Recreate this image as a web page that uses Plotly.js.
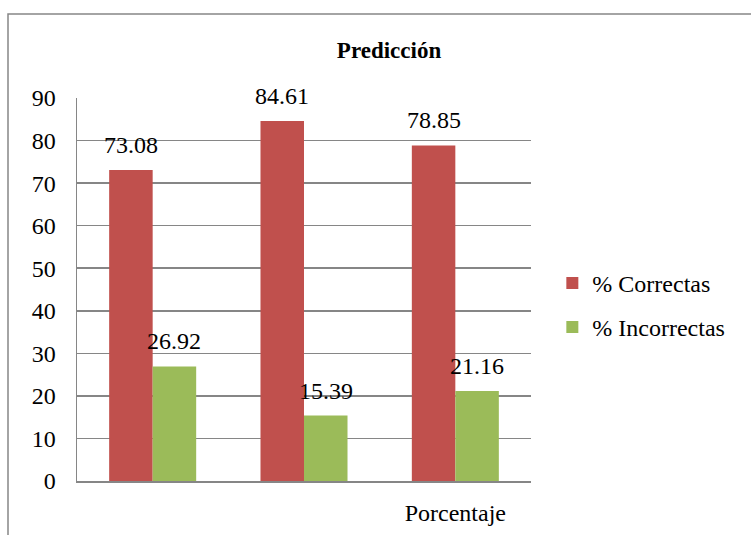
<!DOCTYPE html>
<html>
<head>
<meta charset="utf-8">
<script src="https://cdn.plot.ly/plotly-3.0.1.min.js"></script>
<style>html,body{margin:0;padding:0;background:#fff;}#chart{width:751px;height:535px;}</style>
</head>
<body>
<div id="chart"></div>
<script>
var categories = ['g1', 'g2', 'g3'];
var tickLabels = ['', '', 'Porcentaje'];
var seriesNames = ['% Correctas', '% Incorrectas'];
var correctas = [73.08, 84.61, 78.85];
var incorrectas = [26.92, 15.39, 21.16];
var chartTitle = 'Predicción';

var FONT = 'Liberation Serif, Times New Roman, serif';
var RED = '#C0504D', GREEN = '#9BBB59', GRID = '#868686';

var traces = [
  {type: 'bar', name: seriesNames[0], x: categories, y: correctas, marker: {color: RED}, legendgroup: 'a', hoverinfo: 'y'},
  {type: 'bar', name: seriesNames[1], x: categories, y: incorrectas, marker: {color: GREEN}, legendgroup: 'b', hoverinfo: 'y'}
];

var annotations = [];
[correctas, incorrectas].forEach(function (vals, s) {
  vals.forEach(function (v, i) {
    annotations.push({
      x: categories[i], y: v, xref: 'x', yref: 'y',
      text: v.toFixed(2), showarrow: false,
      xshift: s === 0 ? -21.75 : 21.75, yshift: 25,
      yanchor: 'middle', xanchor: 'center',
      font: {family: FONT, size: 24, color: '#000'}
    });
  });
});

var layout = {
  width: 751, height: 535,
  margin: {l: 77, r: 220, t: 98, b: 54},
  paper_bgcolor: '#fff', plot_bgcolor: '#fff',
  font: {family: FONT, size: 24, color: '#000'},
  title: {text: '<b>' + chartTitle + '</b>', xref: 'container', yref: 'container', x: 0.518, y: 1 - 50 / 535, xanchor: 'center', yanchor: 'middle', font: {family: FONT, size: 23, color: '#000'}},
  bargap: 0.425, bargroupgap: 0,
  barmode: 'group',
  xaxis: {type: 'category', tickvals: categories, ticktext: tickLabels, showgrid: false, showline: true, linecolor: GRID, linewidth: 1.5, ticks: 'outside', ticklen: 10, tickcolor: 'rgba(0,0,0,0)', tickfont: {family: FONT, size: 24}, fixedrange: true},
  yaxis: {range: [0, 90], dtick: 10, tick0: 0, showgrid: true, gridcolor: GRID, gridwidth: 1.5, showline: true, linecolor: GRID, linewidth: 1.5, zeroline: false, ticks: 'outside', ticklen: 15, tickcolor: 'rgba(0,0,0,0)', tickfont: {family: FONT, size: 24}, fixedrange: true},
  showlegend: true,
  legend: {x: 1.047, y: 0.575, xanchor: 'left', yanchor: 'top', font: {family: FONT, size: 24}, tracegroupgap: 10, traceorder: 'grouped', bgcolor: 'rgba(0,0,0,0)'},
  annotations: annotations,
  shapes: [{type: 'rect', xref: 'paper', yref: 'paper', x0: (8 - 77) / 454, x1: 1.6, y0: -0.3, y1: (481 - 14) / 383, line: {color: GRID, width: 1.5}, fillcolor: 'rgba(0,0,0,0)', layer: 'below'}]
};

Plotly.newPlot('chart', traces, layout, {displayModeBar: false, staticPlot: true});
</script>
</body>
</html>
